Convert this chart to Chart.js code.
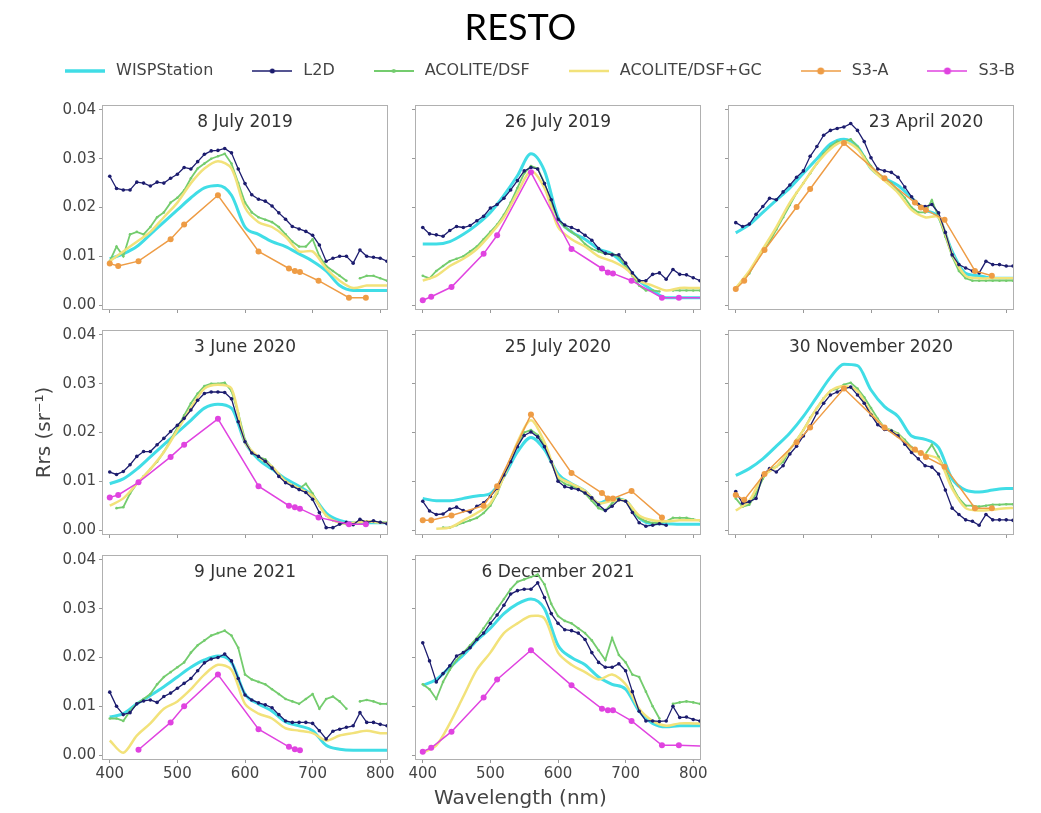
<!DOCTYPE html>
<html>
<head>
<meta charset="utf-8">
<title>RESTO</title>
<script src="https://cdn.jsdelivr.net/npm/chart.js@4.4.1/dist/chart.umd.min.js"></script>
<style>
  html, body { margin: 0; padding: 0; background: #fff; }
  #fig { position: relative; width: 1041px; height: 813px; overflow: hidden; }
  #fig canvas { position: absolute; }
</style>
</head>
<body>
<div id="fig"></div>
<script>
// wavelengths (nm)
const wlHyper = [400, 410, 420, 430, 440, 450, 460, 470, 480, 490, 500, 510, 520, 530, 540, 550, 560, 570, 580, 590,
  600, 610, 620, 630, 640, 650, 660, 670, 680, 690, 700, 710, 720, 730, 740, 750, 760, 770, 780, 790, 800, 810];
const wlCoarse = [400, 420, 440, 460, 480, 500, 520, 540, 560, 580, 600, 620, 640, 660, 680, 700, 720, 740, 760, 780, 800, 820];
const wlOlci = [400, 412.5, 442.5, 490, 510, 560, 620, 665, 673.75, 681.25, 708.75, 753.75, 778.75, 865];

const xTicks = [400, 500, 600, 700, 800];
const yTicks = [0, 0.01, 0.02, 0.03, 0.04];

const panelTitles = ['8 July 2019', '26 July 2019', '23 April 2020', '3 June 2020',
  '25 July 2020', '30 November 2020', '9 June 2021', '6 December 2021'];
const panelSat = ['S3-A', 'S3-B', 'S3-A', 'S3-B', 'S3-A', 'S3-A', 'S3-B', 'S3-B'];

// 8 July 2019
const p1Wisp = [.0095, .0105, .012, .0145, .017, .0195, .022, .024, .0245, .0225, .016, .0145, .013, .012, .0105, .009, .007, .004, .003, .003, .003, .003];
const p1L2d = [.0264, .0239, .0236, .0236, .0252, .025, .0244, .0252, .025, .026, .0268, .0282, .0279, .0294, .0309, .0316, .0317, .0321, .0312, .0279,
  .0249, .0226, .0217, .0213, .0203, .0189, .0176, .0161, .0156, .0151, .0143, .0123, .009, .0096, .01, .01, .0086, .0113, .01, .0098, .0096, .009];
const p1Dsf = [.009, .012, .010, .0145, .015, .0145, .016, .018, .019, .021, .022, .0235, .026, .028, .029, .030, .0305, .031, .029, .025,
  .021, .019, .018, .0175, .017, .016, .0145, .013, .012, .012, .0135, .010, .008, .007, .006, .005, null, .0055, .006, .006, .0055, .005];
const p1Gc = [.009, .011, .013, .015, .018, .021, .025, .028, .0295, .028, .020, .017, .016, .014, .011, .011, .0075, .005, .0035, .004, .004, .004];
const p1S3 = [.0085, .008, .009, .0135, .0165, .0225, .011, .0075, .007, .0068, .005, .0015, .0015, null];

// 26 July 2019
const p2Wisp = [.0125, .0125, .013, .0145, .0165, .019, .0225, .0265, .031, .0275, .018, .015, .0135, .0115, .0105, .008, .005, .003, .0015, .0015, .0015, .0015];
const p2L2d = [.0159, .0146, .0144, .0141, .0153, .0161, .0159, .0163, .0173, .0182, .0199, .0206, .0219, .0236, .0255, .0275, .0282, .0279, .0249, .0216,
  .0176, .0164, .0159, .0153, .0143, .0133, .0116, .0106, .0103, .0103, .0086, .0066, .005, .005, .0063, .0066, .0053, .0073, .0063, .0062, .0056, .005];
const p2Dsf = [.006, .0055, .007, .008, .009, .0095, .010, .011, .012, .0135, .015, .0165, .0185, .021, .024, .027, .0285, .028, .025, .021,
  .0175, .016, .015, .014, .0125, .0115, .011, .0105, .0105, .010, .008, .006, .004, .003, .003, .0028, null, .003, .003, .003, .003, .003];
const p2Gc = [.005, .006, .008, .0095, .0115, .0145, .018, .023, .0275, .024, .016, .0135, .012, .010, .009, .0075, .005, .004, .003, .0035, .0035, .0035];
const p2S3 = [.001, .0017, .0037, .0105, .0143, .0272, .0115, .0075, .0067, .0065, .005, .0015, .0015, .0015];

// 23 April 2020
const p3Wisp = [.0148, .0165, .019, .0215, .024, .027, .030, .033, .034, .0325, .028, .026, .0245, .022, .0195, .018, .011, .0065, .006, .0055, .0055, .0055];
const p3L2d = [.0169, .0161, .0166, .0186, .0202, .0219, .0216, .0232, .0246, .0262, .0275, .0305, .0325, .0348, .0358, .0362, .0365, .0372, .0358, .0335,
  .0302, .0279, .0275, .0272, .0262, .0242, .0222, .0206, .0202, .0206, .0189, .0149, .0103, .0083, .0076, .007, .0066, .009, .0083, .0083, .008, .008];
const p3Dsf = [.0035, .005, .0065, .009, .011, .013, .0155, .018, .0205, .023, .025, .027, .029, .031, .0325, .0335, .0335, .034, .0325, .0305,
  .0285, .027, .026, .025, .0235, .022, .020, .019, .019, .0215, .018, .014, .010, .007, .0055, .005, .005, .005, .005, .005, .005, .005];
const p3Gc = [.0035, .007, .0115, .016, .021, .025, .029, .032, .0335, .032, .028, .0255, .023, .0195, .018, .018, .0105, .006, .0055, .0055, .0055, .0055];
const p3S3 = [.0033, .005, .0113, .0201, .0238, .0332, .026, .021, .020, .0195, .0175, .007, .006, null];

// 3 June 2020
const p4Wisp = [.0095, .0105, .0125, .015, .0175, .020, .0225, .025, .0258, .025, .018, .0145, .0125, .0105, .009, .007, .0035, .002, .0015, .0015, .0015, .0015];
const p4L2d = [.0119, .0114, .012, .0134, .0151, .0161, .0161, .0175, .0188, .0202, .0215, .0229, .0246, .0266, .028, .0283, .0283, .0282, .0269, .0222,
  .0181, .0158, .0151, .0141, .0127, .011, .0097, .009, .0083, .0077, .0063, .0036, .0005, .0005, .0012, .0016, .0011, .0022, .0016, .0019, .0016, .0013];
const p4Dsf = [null, .0045, .0047, .0075, .0095, .011, .0125, .014, .016, .0185, .021, .0235, .026, .028, .0295, .030, .030, .0302, .0285, .024,
  .0185, .016, .015, .0145, .013, .0115, .010, .009, .0085, .0095, .0075, .005, .003, .002, .0015, .0012, null, .0015, .0018, .0018, .0016, .0015];
const p4Gc = [.005, .0065, .0095, .0125, .016, .0205, .025, .029, .0298, .029, .018, .015, .013, .010, .0085, .007, .003, .0015, .0015, .0018, .0015, .0015];
const p4S3 = [.0067, .0072, .0098, .015, .0175, .0228, .009, .005, .0047, .0044, .0026, .0012, .0012, null];

// 25 July 2020
const p5Wisp = [.0065, .006, .006, .0065, .007, .0075, .011, .016, .019, .0165, .0115, .0095, .008, .0055, .0065, .006, .0025, .0013, .0013, .0012, .0012, .0012];
const p5L2d = [.0059, .0039, .0032, .0033, .0043, .0047, .004, .0037, .0049, .0056, .0069, .0086, .0113, .014, .0171, .0194, .0201, .0191, .0171, .014,
  .010, .0089, .0086, .0083, .0076, .0066, .0052, .004, .0049, .0062, .0059, .0036, .0015, .0008, .001, .0013, .001, null, null, null, null, null];
const p5Dsf = [null, null, null, .0005, .0005, .001, .0015, .002, .0025, .0035, .005, .0075, .011, .0145, .0175, .020, .0205, .0195, .0175, .014,
  .0105, .0095, .009, .0085, .0075, .006, .0045, .004, .0055, .0065, .006, .004, .0025, .0018, .0015, .0015, .0018, .0025, .0025, .0025, .0022, .002];
const p5Gc = [null, .0003, .0005, .002, .0035, .0055, .011, .018, .0225, .018, .011, .0095, .008, .0055, .006, .006, .003, .002, .0018, .002, .002, .002];
const p5S3 = [.002, .002, .003, .005, .009, .0237, .0117, .0076, .0065, .0065, .008, .0026, null, null];

// 30 November 2020
const p6Wisp = [.0112, .0126, .0146, .0172, .0199, .0233, .0273, .0313, .034, .0337, .0287, .0253, .0233, .0193, .0186, .0169, .0105, .0082, .0078, .0082, .0085, .0085];
const p6L2d = [.0079, .0055, .0058, .0065, .0112, .0126, .0119, .0132, .0156, .0172, .0193, .0213, .024, .026, .0277, .0283, .029, .0293, .0277, .026,
  .0236, .0216, .0206, .0203, .0193, .0176, .0159, .0146, .0132, .0129, .0115, .0082, .0045, .0032, .0021, .0018, .001, .0032, .0021, .0021, .0021, .002];
const p6Dsf = [.0065, .0048, .0052, .0075, .0105, .0125, .013, .014, .0165, .0185, .0205, .023, .025, .027, .0285, .029, .0298, .0302, .029, .0272,
  .025, .0228, .021, .0205, .0198, .0185, .017, .016, .0155, .0175, .015, .0125, .009, .0065, .005, .005, .0048, .005, .0052, .0052, .0053, .0053];
const p6Gc = [.004, .006, .011, .013, .0165, .0205, .025, .0285, .0295, .0285, .024, .021, .0195, .0165, .0155, .0145, .0085, .0045, .004, .0042, .0045, .0045];
const p6S3 = [.0072, .0062, .0115, .018, .021, .029, .021, .0165, .0158, .015, .013, .0045, .0045, null];

// 9 June 2021
const p7Wisp = [.0078, .0085, .0105, .0122, .014, .016, .018, .0195, .0203, .019, .0125, .0105, .009, .0068, .006, .005, .002, .0012, .001, .001, .001, .001];
const p7L2d = [.0129, .010, .0083, .0087, .0105, .0111, .0113, .0108, .012, .0127, .0137, .0147, .0157, .0173, .0189, .0197, .020, .0207, .0193, .0157,
  .0123, .0113, .0107, .0103, .0097, .0083, .007, .0067, .0067, .0067, .0065, .005, .0033, .0049, .0053, .0057, .006, .0087, .0067, .0067, .0063, .006];
const p7Dsf = [.0075, .0075, .007, .009, .0105, .0115, .0125, .0145, .016, .017, .018, .019, .021, .0225, .0235, .0245, .025, .0255, .0245, .022,
  .0165, .0155, .015, .0145, .0135, .0125, .0115, .011, .0105, .0115, .0125, .0095, .0115, .012, .011, .0095, null, .011, .0113, .011, .0105, .0105];
const p7Gc = [.003, .0005, .004, .0065, .0095, .011, .0135, .0165, .0185, .0175, .0105, .0085, .0075, .0055, .005, .0045, .003, .004, .0045, .005, .0045, .0045];
const p7S3 = [null, null, .0011, .0067, .010, .0165, .0053, .0017, .0012, .001, null, null, null, null];

// 6 December 2021
const p8Wisp = [.0143, .0155, .018, .0205, .0235, .026, .029, .031, .032, .030, .0225, .020, .0185, .016, .0145, .0135, .009, .0065, .0058, .006, .006, .006];
const p8L2d = [.023, .0193, .015, .0167, .0183, .0203, .021, .022, .0237, .025, .027, .0287, .0307, .033, .0337, .034, .034, .0353, .0323, .029,
  .027, .0257, .0255, .025, .0237, .021, .019, .018, .018, .0187, .0173, .013, .009, .007, .007, .0069, .007, .010, .0077, .0078, .0073, .007];
const p8Dsf = [.0145, .0135, .0115, .015, .0175, .0195, .021, .0225, .024, .026, .028, .030, .032, .034, .0355, .036, .0365, .037, .035, .031,
  .0285, .0275, .027, .026, .025, .0235, .0215, .0195, .024, .0205, .019, .0165, .016, .013, .010, .0075, null, .0105, .0108, .011, .0108, .0105];
const p8Gc = [.0005, .002, .0065, .012, .0175, .021, .025, .027, .0285, .028, .021, .0185, .017, .0155, .0165, .0145, .0095, .007, .006, .0065, .0065, .0065];
const p8S3 = [.0007, .0015, .0048, .0118, .0155, .0215, .0143, .0095, .0092, .0092, .007, .002, .002, .0016];

const wispData = [p1Wisp, p2Wisp, p3Wisp, p4Wisp, p5Wisp, p6Wisp, p7Wisp, p8Wisp];
const l2dData = [p1L2d, p2L2d, p3L2d, p4L2d, p5L2d, p6L2d, p7L2d, p8L2d];
const dsfData = [p1Dsf, p2Dsf, p3Dsf, p4Dsf, p5Dsf, p6Dsf, p7Dsf, p8Dsf];
const gcData = [p1Gc, p2Gc, p3Gc, p4Gc, p5Gc, p6Gc, p7Gc, p8Gc];
const s3Data = [p1S3, p2S3, p3S3, p4S3, p5S3, p6S3, p7S3, p8S3];

// colours
const C_WISP = '#40dde6', C_L2D = '#1c1c6e', C_DSF = '#74cc6e', C_GC = '#f2e27a', C_S3A = '#ee9c45', C_S3B = '#e043e0';

// layout
const PADL = 75, PADR = 12, PADT = 6, PADB = 40;
const BOX_W = 284, BOX_H = 209;
const colLeft = [103, 416, 729];
const rowTop = [100, 325, 550];
const titleShift = [0, 0, 55, 0, 0, 0, 0, 0];

Chart.defaults.font.family = "'DejaVu Sans', sans-serif";

const fig = document.getElementById('fig');
function addCanvas(left, top, w, h) {
  const c = document.createElement('canvas');
  c.width = w; c.height = h;
  c.style.left = left + 'px'; c.style.top = top + 'px';
  c.style.width = w + 'px'; c.style.height = h + 'px';
  fig.appendChild(c);
  return c;
}

function pts(xs, ys) {
  return xs.map((x, i) => ({ x: x, y: ys[i] === undefined ? null : ys[i] }));
}

// figure title + x label
new Chart(addCanvas(0, 0, 1041, 813), {
  type: 'line',
  data: { datasets: [] },
  options: {
    responsive: false, animation: false, events: [],
    scales: { x: { display: false }, y: { display: false } },
    plugins: {
      legend: { display: false }, tooltip: { enabled: false },
      title: { display: true, text: 'RESTO', color: '#000', font: { family: 'Lato', size: 36, weight: 'normal' }, padding: { top: 7, bottom: 0 } },
      subtitle: { display: true, position: 'bottom', text: 'Wavelength (nm)', color: '#444', font: { size: 20 }, padding: { top: 0, bottom: 2 } }
    }
  }
});

// legend samples
function sample(color, width, radius) {
  const c = document.createElement('canvas');
  c.width = 40; c.height = 16;
  const g = c.getContext('2d');
  g.strokeStyle = color; g.lineWidth = width;
  g.beginPath(); g.moveTo(0, 8); g.lineTo(40, 8); g.stroke();
  if (radius) {
    g.fillStyle = color;
    g.beginPath(); g.arc(20, 8, radius, 0, Math.PI * 2); g.fill();
  }
  return c;
}

// wider than the figure so the row stays on one line; centre sits a bit right of the page centre
new Chart(addCanvas(0, 27, 1077, 100), {
  type: 'line',
  data: {
    datasets: [
      { label: 'WISPStation', data: [], borderColor: C_WISP, pointStyle: sample(C_WISP, 3.5, 0) },
      { label: 'L2D', data: [], borderColor: C_L2D, pointStyle: sample(C_L2D, 1.5, 2.5) },
      { label: 'ACOLITE/DSF', data: [], borderColor: C_DSF, pointStyle: sample(C_DSF, 2, 2) },
      { label: 'ACOLITE/DSF+GC', data: [], borderColor: C_GC, pointStyle: sample(C_GC, 2.5, 0) },
      { label: 'S3-A', data: [], borderColor: C_S3A, pointStyle: sample(C_S3A, 1.5, 3.5) },
      { label: 'S3-B', data: [], borderColor: C_S3B, pointStyle: sample(C_S3B, 1.5, 3.5) }
    ]
  },
  options: {
    responsive: false, animation: false, events: [],
    scales: { x: { display: false }, y: { display: false } },
    plugins: {
      tooltip: { enabled: false },
      legend: {
        display: true, position: 'top',
        labels: { usePointStyle: true, pointStyleWidth: 46, padding: 36, color: '#444', font: { size: 16 } }
      }
    }
  }
});

// frame + panel title
const framePlugin = {
  id: 'frame',
  beforeDatasetsDraw(chart, args, opts) {
    const { ctx, chartArea: a } = chart;
    ctx.save();
    ctx.strokeStyle = '#b0b0b0';
    ctx.lineWidth = 1;
    ctx.strokeRect(a.left - 0.5, a.top - 0.5, a.right - a.left + 1, a.bottom - a.top + 1);
    ctx.fillStyle = '#333';
    ctx.font = "17px 'DejaVu Sans'";
    ctx.textAlign = 'center';
    ctx.textBaseline = 'middle';
    ctx.fillText(opts.text, (a.left + a.right) / 2 + (opts.dx || 0), a.top + 17);
    ctx.restore();
  }
};

const tickFont = { size: 15 };

panelTitles.forEach((title, i) => {
  const col = i % 3, row = Math.floor(i / 3);
  const showY = col === 0, showX = row === 2;
  const W = BOX_W + PADL + PADR, H = BOX_H + PADT + PADB;
  const canvas = addCanvas(colLeft[col] - PADL, rowTop[row] - PADT, W, H);
  const satColor = panelSat[i] === 'S3-A' ? C_S3A : C_S3B;

  new Chart(canvas, {
    type: 'line',
    data: {
      datasets: [
        { label: 'WISPStation', data: pts(wlCoarse, wispData[i]), borderColor: C_WISP, borderWidth: 3,
          pointRadius: 0, cubicInterpolationMode: 'monotone', order: 4 },
        { label: 'L2D', data: pts(wlHyper, l2dData[i]), borderColor: C_L2D, borderWidth: 1.3,
          pointRadius: 1.8, pointBorderWidth: 0, pointBackgroundColor: C_L2D, order: 1 },
        { label: 'ACOLITE/DSF', data: pts(wlHyper, dsfData[i]), borderColor: C_DSF, borderWidth: 1.8,
          pointRadius: 1.3, pointBorderWidth: 0, pointBackgroundColor: C_DSF, order: 3 },
        { label: 'ACOLITE/DSF+GC', data: pts(wlCoarse, gcData[i]), borderColor: C_GC, borderWidth: 2.5,
          pointRadius: 0, tension: 0.3, order: 2 },
        { label: panelSat[i], data: pts(wlOlci, s3Data[i]), borderColor: satColor, borderWidth: 1.5,
          pointRadius: 3, pointBorderWidth: 0, pointBackgroundColor: satColor, order: 0 }
      ]
    },
    options: {
      responsive: false, animation: false, events: [],
      layout: { padding: { top: PADT, right: PADR, left: 0, bottom: 0 } },
      plugins: {
        legend: { display: false }, tooltip: { enabled: false },
        frame: { text: title, dx: titleShift[i] }
      },
      scales: {
        x: {
          type: 'linear', min: 390, max: 810,
          afterBuildTicks: s => { s.ticks = xTicks.map(v => ({ value: v })); },
          afterFit: s => { s.height = PADB; },
          border: { display: false },
          grid: { display: true, drawOnChartArea: false, drawTicks: true, tickLength: 4, color: '#999' },
          ticks: { autoSkip: false, maxRotation: 0, padding: 2, color: '#444', font: tickFont,
            callback: v => showX ? String(v) : '' }
        },
        y: {
          type: 'linear', min: -0.0008, max: 0.0408,
          afterBuildTicks: s => { s.ticks = yTicks.map(v => ({ value: v })); },
          afterFit: s => { s.width = PADL; },
          border: { display: false },
          grid: { display: true, drawOnChartArea: false, drawTicks: true, tickLength: 4, color: '#999' },
          ticks: { padding: 3, color: '#444', font: tickFont,
            callback: v => showY ? v.toFixed(2) : '' },
          title: { display: i === 3, text: 'Rrs (sr⁻¹)', color: '#444', font: { size: 20 }, padding: { top: 5, bottom: 0 } }
        }
      }
    },
    plugins: [framePlugin]
  });
});
</script>
</body>
</html>
